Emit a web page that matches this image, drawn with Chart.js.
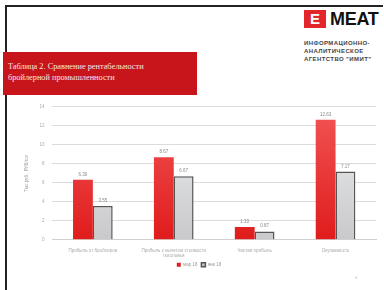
<!DOCTYPE html>
<html>
<head>
<meta charset="utf-8">
<script src="https://cdn.jsdelivr.net/npm/chart.js@4"></script>
<style>
  body { margin: 0; width: 384px; height: 290px; background: #fff; position: relative; overflow: hidden; font-family: "Liberation Sans", Arial, sans-serif; }
  #frameTop { position: absolute; left: 5px; top: 5px; width: 378px; height: 2px; background: #222; }
  #frameLeft { position: absolute; left: 5px; top: 5px; width: 2px; height: 290px; background: #222; }
  #title { position: absolute; left: 3px; top: 52px; width: 194px; height: 43px; background: #c8141b; color: #f4e6e6;
    font-family: "Liberation Serif", "DejaVu Serif", serif; font-size: 8.3px; line-height: 11px; box-sizing: border-box; padding: 9px 0 0 5px; }
  #logo { position: absolute; left: 304px; top: 10px; }
  #logo .e { position: absolute; left: 0; top: 0; width: 22px; height: 18px; background: #e3262a; color: #fff; font: bold 15px "Liberation Sans", Arial, sans-serif; line-height: 18px; text-align: center; }
  #logo .meat { position: absolute; left: 26px; top: 0; font: bold 18px "Liberation Sans", Arial, sans-serif; line-height: 18px; color: #111; letter-spacing: -0.3px; }
  #logo .sub { position: absolute; left: 0; top: 29px; width: 82px; font: bold 6px "Liberation Sans", Arial, sans-serif; line-height: 8px; color: #444; letter-spacing: 0.4px; }
  #wrap { position: absolute; left: 22px; top: 96px; width: 358px; height: 181px; }
  #pg { position: absolute; left: 355px; top: 275px; font-size: 4px; color: #bbb; }
</style>
</head>
<body>
<div id="frameTop"></div>
<div id="frameLeft"></div>
<div id="title">Таблица 2. Сравнение рентабельности<br>бройлерной промышленности</div>
<div id="logo">
  <div class="e">E</div>
  <div class="meat">MEAT</div>
  <div class="sub">ИНФОРМАЦИОННО-<br>АНАЛИТИЧЕСКОЕ<br>АГЕНТСТВО "ИМИТ"</div>
</div>
<div id="wrap"><canvas id="chart1"></canvas></div>
<div id="pg">4</div>
<script>
var categories = [['Прибыль от бройлеров'], ['Прибыль с вычетом стоимости', 'поголовья'], ['Чистая прибыль'], ['Окупаемость']];
var seriesNames = ['мар 18', 'янв 18'];
var seriesA = [6.30, 8.67, 1.33, 12.63];
var seriesB = [3.55, 6.67, 0.87, 7.17];
var yTicks = [0, 2, 4, 6, 8, 10, 12, 14];

function grad(ctx, top, bottom) {
  var area = ctx.chart.chartArea;
  if (!area) return top;
  var g = ctx.chart.ctx.createLinearGradient(0, area.top, 0, area.bottom);
  g.addColorStop(0, top);
  g.addColorStop(1, bottom);
  return g;
}

// подписи значений над столбцами
var valueLabels = {
  id: 'valueLabels',
  afterDatasetsDraw: function(chart) {
    var c = chart.ctx;
    c.save();
    c.font = '4.5px "Liberation Sans", Arial, sans-serif';
    c.fillStyle = '#888';
    c.textAlign = 'center';
    c.textBaseline = 'bottom';
    chart.data.datasets.forEach(function(ds, i) {
      chart.getDatasetMeta(i).data.forEach(function(bar, j) {
        c.fillText(ds.data[j].toFixed(2), bar.x, bar.y - 3);
      });
    });
    c.restore();
  }
};

var ctx = document.getElementById('chart1').getContext('2d');
var chart1 = new Chart(ctx, {
  type: 'bar',
  data: {
    labels: categories,
    datasets: [{
      label: seriesNames[0],
      data: seriesA,
      backgroundColor: function(c) { return grad(c, '#f25555', '#e01c1c'); },
      borderWidth: 0
    }, {
      label: seriesNames[1],
      data: seriesB,
      backgroundColor: function(c) { return grad(c, '#eef0f2', '#c9c9cb'); },
      borderColor: '#555',
      borderWidth: 1.5
    }]
  },
  options: {
    responsive: true,
    maintainAspectRatio: false,
    animation: false,
    layout: { padding: { top: 5, right: 4, left: 0, bottom: 0 } },
    categoryPercentage: 0.49,
    barPercentage: 1,
    scales: {
      x: {
        grid: { display: false },
        border: { color: '#d0d0d0' },
        ticks: { color: '#aaa', font: { size: 4.5 }, maxRotation: 0, autoSkip: false, padding: 0 }
      },
      y: {
        min: 0, max: 14,
        afterBuildTicks: function(s) { s.ticks = yTicks.map(function(v) { return { value: v }; }); },
        grid: { color: '#dcdcdc', lineWidth: 1, drawTicks: false },
        border: { display: false },
        ticks: { color: '#aaa', font: { size: 4.5 }, padding: 8 },
        title: { display: true, text: 'Тыс.руб., РУБ/гол', color: '#999', font: { size: 4.5 }, padding: 2 }
      }
    },
    plugins: {
      legend: {
        position: 'bottom',
        labels: { color: '#999', font: { size: 4.5 }, boxWidth: 4, boxHeight: 4, padding: 4 }
      },
      tooltip: { enabled: false }
    }
  },
  plugins: [valueLabels]
});
</script>
</body>
</html>
